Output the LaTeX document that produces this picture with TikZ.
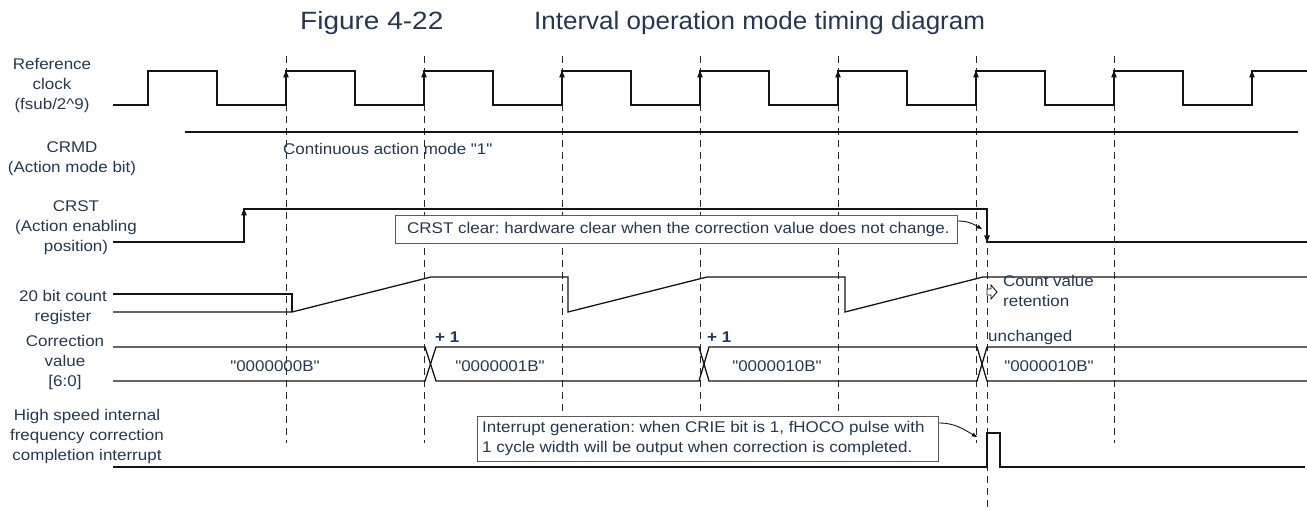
\documentclass[tikz,border=0pt]{standalone}
\usepackage{fontspec}
\setmainfont{Liberation Sans}[FakeStretch=1.095,Ligatures=TeXOff]
\newfontfamily\titlefont{Liberation Sans}[FakeStretch=1.04]
\newfontfamily\figfont{Liberation Sans}[FakeStretch=1.12]
\usetikzlibrary{arrows.meta}
\definecolor{txt}{RGB}{36,56,84}
\definecolor{ln}{RGB}{20,20,20}
\definecolor{dsh}{RGB}{40,40,40}
\definecolor{bx}{RGB}{90,90,90}
\tikzset{
  sig/.style={draw=ln, line width=1.3pt, line join=miter},
  grid/.style={draw=dsh, line width=0.9pt, dash pattern=on 7pt off 5pt},
  lbl/.style={text=txt, font=\fontsize{15.5}{20}\selectfont, align=center, inner sep=0pt},
  txtl/.style={text=txt, font=\fontsize{15.5}{20}\selectfont, align=left, inner sep=0pt, anchor=west},
  note/.style={draw=bx, fill=white, line width=0.9pt, text=txt, font=\fontsize{15.5}{20}\selectfont, align=left, inner sep=0pt},
  ttl/.style={text=txt, font=\titlefont\fontsize{25}{30}\selectfont, anchor=west, inner sep=0pt},
  tip/.style={-{Triangle[width=5.5pt,length=7pt]}},
  smalltip/.style={-{Triangle[width=4pt,length=5pt]}},
}
\frenchspacing
\begin{document}
\begin{tikzpicture}[x=1pt,y=-1pt]
\useasboundingbox (0,0) rectangle (1307,510);
% title
\node[ttl, font=\figfont\fontsize{25}{30}\selectfont] (t1) at (300,23) {Figure 4-22};
\node[ttl] (t2) at (534,23) {Interval operation mode timing diagram};
% grid lines
\foreach \x in {286,424,562,700,838,976,1114} \draw[grid] (\x,56) -- (\x,443);
\draw[grid] (987,248) -- (987,510);
% left labels
\node[lbl] (lclk) at (52,86) {Reference\\clock\\(fsub/2\^{}9)};
\node[lbl] (lcrmd) at (72,159) {CRMD\\(Action mode bit)};
\node[lbl] (lcrst) at (76,228) {CRST\\(Action enabling\\position)};
\node[lbl] (lcnt) at (63,307) {20 bit count\\register};
\node[lbl] (lcor) at (65,362) {Correction\\value\\{}[6:0]};
\node[lbl] (lint) at (87,436) {High speed internal\\frequency correction\\completion interrupt};
% clock
\draw[sig] (113,105) -- (148,105) -- (148,71) -- (217,71) -- (217,105)
  \foreach \k in {1,...,7} { -- ({148+138*\k},105) -- ({148+138*\k},71) -- ({217+138*\k},71) -- ({217+138*\k},105) }
  -- (1252,105) -- (1252,71) -- (1307,71);
\foreach \x in {286,424,562,700,838,976,1114,1252} \draw[sig, tip] (\x,105) -- (\x,70.5);
% CRMD
\draw[sig] (185,132) -- (1298,132);
\node[txtl] (cmode) at (283,149) {Continuous action mode "1"};
% CRST
\draw[sig] (113,242) -- (244,242) -- (244,209) -- (987,209) -- (987,242) -- (1307,242);
\draw[sig, tip] (244,242) -- (244,208.5);
\draw[sig, tip] (987,209) -- (987,242.5);
\node[note, minimum width=562pt, minimum height=28pt, anchor=north west] (crstbox) at (395,215) {};
\node[txtl] (crsttext) at (407,229) {CRST clear: hardware clear when the correction value does not change.};
\coordinate (c1) at (958,221);
\coordinate (c2) at (982,229);
\draw[draw=ln, line width=0.9pt, smalltip] (c1) to[out=0,in=150] (c2);
% count register
\draw[sig] (113,294) -- (292,294) -- (292,312);
\draw[sig] (113,312) -- (292,312) -- (431,277) -- (568,277) -- (568,312) -- (707,277) -- (845,277) -- (845,312) -- (983,277) -- (1307,277);
\draw[draw=ln, line width=0.9pt, fill=white] (987,289) -- (991,289) -- (991,285) -- (997,292) -- (991,299) -- (991,295) -- (987,295) -- cycle;
\node[txtl] (cret) at (1003,291) {Count value\\retention};
% correction value bus
\draw[sig] (113,347) -- (425,347) -- (436,381) -- (699,381) -- (709,347) -- (977,347) -- (987,381) -- (1307,381);
\draw[sig] (113,381) -- (425,381) -- (436,347) -- (699,347) -- (709,381) -- (977,381) -- (987,347) -- (1307,347);
\node[lbl] (v0) at (275,366) {"0000000B"};
\node[lbl] (v1) at (500,366) {"0000001B"};
\node[lbl] (v2) at (777,366) {"0000010B"};
\node[lbl] (v3) at (1049,366) {"0000010B"};
\node[txtl, font=\fontsize{15.5}{20}\selectfont\bfseries] (p1) at (435,337) {+ 1};
\node[txtl, font=\fontsize{15.5}{20}\selectfont\bfseries] (p2) at (707,337) {+ 1};
\node[txtl] (unch) at (988,337) {unchanged};
% interrupt
\draw[sig] (113,467) -- (987,467) -- (987,433) -- (1000,433) -- (1000,467) -- (1305,467);
\node[note, minimum width=461pt, minimum height=45pt, anchor=north west] (intbox) at (477,416) {};
\node[txtl] (inttext) at (482,438.5) {Interrupt generation: when CRIE bit is 1, fHOCO pulse with\\1 cycle width will be output when correction is completed.};
\coordinate (i1) at (939,423);
\coordinate (i2) at (977,437);
\draw[draw=ln, line width=0.9pt, smalltip] (i1) to[out=0,in=150] (i2);
\end{tikzpicture}
\end{document}
